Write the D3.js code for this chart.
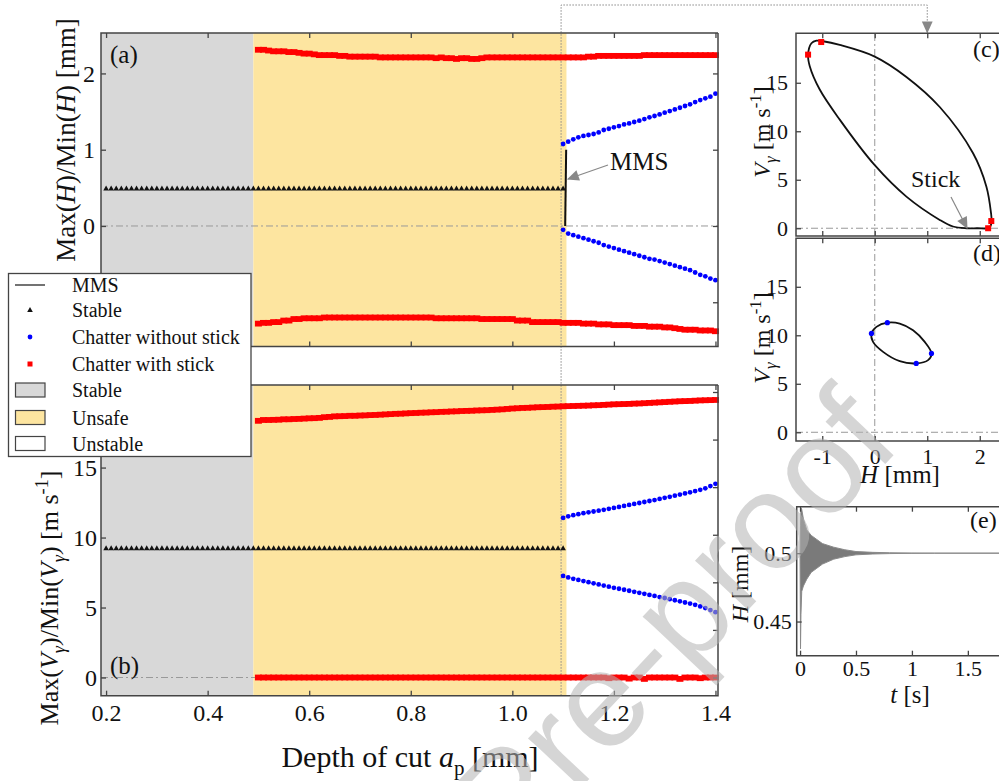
<!DOCTYPE html>
<html><head><meta charset="utf-8">
<script src="https://cdn.jsdelivr.net/npm/d3@7"></script>
<style>
body{margin:0;background:#fff}
svg{display:block}
svg text{font-family:"Liberation Serif","Times New Roman",Times,serif;fill:#111}
</style>
</head><body>
<svg id="chart" width="999" height="781" font-family="Liberation Serif, Times New Roman, serif"></svg>
<script>
// ---------------- DATA ----------------
const apStable = [
0.20,0.21,0.22,0.23,0.24,0.25,0.26,0.27,0.28,0.29,
0.30,0.31,0.32,0.33,0.34,0.35,0.36,0.37,0.38,0.39,
0.40,0.41,0.42,0.43,0.44,0.45,0.46,0.47,0.48,0.49,
0.50,0.51,0.52,0.53,0.54,0.55,0.56,0.57,0.58,0.59,
0.60,0.61,0.62,0.63,0.64,0.65,0.66,0.67,0.68,0.69,
0.70,0.71,0.72,0.73,0.74,0.75,0.76,0.77,0.78,0.79,
0.80,0.81,0.82,0.83,0.84,0.85,0.86,0.87,0.88,0.89,
0.90,0.91,0.92,0.93,0.94,0.95,0.96,0.97,0.98,0.99,
1.00,1.01,1.02,1.03,1.04,1.05,1.06,1.07,1.08,1.09,
1.10];
const hStable = [
0.49,0.49,0.49,0.49,0.49,0.49,0.49,0.49,0.49,0.49,
0.49,0.49,0.49,0.49,0.49,0.49,0.49,0.49,0.49,0.49,
0.49,0.49,0.49,0.49,0.49,0.49,0.49,0.49,0.49,0.49,
0.49,0.49,0.49,0.49,0.49,0.49,0.49,0.49,0.49,0.49,
0.49,0.49,0.49,0.49,0.49,0.49,0.49,0.49,0.49,0.49,
0.49,0.49,0.49,0.49,0.49,0.49,0.49,0.49,0.49,0.49,
0.49,0.49,0.49,0.49,0.49,0.49,0.49,0.49,0.49,0.49,
0.49,0.49,0.49,0.49,0.49,0.49,0.49,0.49,0.49,0.49,
0.49,0.49,0.49,0.49,0.49,0.49,0.49,0.49,0.49,0.49,
0.49];
const vStable = [
9.24,9.24,9.24,9.24,9.24,9.24,9.24,9.24,9.24,9.24,
9.24,9.24,9.24,9.24,9.24,9.24,9.24,9.24,9.24,9.24,
9.24,9.24,9.24,9.24,9.24,9.24,9.24,9.24,9.24,9.24,
9.24,9.24,9.24,9.24,9.24,9.24,9.24,9.24,9.24,9.24,
9.24,9.24,9.24,9.24,9.24,9.24,9.24,9.24,9.24,9.24,
9.24,9.24,9.24,9.24,9.24,9.24,9.24,9.24,9.24,9.24,
9.24,9.24,9.24,9.24,9.24,9.24,9.24,9.24,9.24,9.24,
9.24,9.24,9.24,9.24,9.24,9.24,9.24,9.24,9.24,9.24,
9.24,9.24,9.24,9.24,9.24,9.24,9.24,9.24,9.24,9.24,
9.24];

const apChatter = [
0.50,0.51,0.52,0.53,0.54,0.55,0.56,0.57,0.58,0.59,
0.60,0.61,0.62,0.63,0.64,0.65,0.66,0.67,0.68,0.69,
0.70,0.71,0.72,0.73,0.74,0.75,0.76,0.77,0.78,0.79,
0.80,0.81,0.82,0.83,0.84,0.85,0.86,0.87,0.88,0.89,
0.90,0.91,0.92,0.93,0.94,0.95,0.96,0.97,0.98,0.99,
1.00,1.01,1.02,1.03,1.04,1.05,1.06,1.07,1.08,1.09,
1.10,1.11,1.12,1.13,1.14,1.15,1.16,1.17,1.18,1.19,
1.20,1.21,1.22,1.23,1.24,1.25,1.26,1.27,1.28,1.29,
1.30,1.31,1.32,1.33,1.34,1.35,1.36,1.37,1.38,1.39,
1.40];
const hStickMax = [
2.31,2.31,2.30,2.29,2.29,2.29,2.28,2.28,2.27,2.26,
2.26,2.25,2.24,2.24,2.24,2.24,2.23,2.23,2.22,2.22,
2.22,2.22,2.22,2.22,2.21,2.21,2.21,2.21,2.21,2.21,
2.21,2.21,2.21,2.21,2.21,2.20,2.21,2.20,2.20,2.19,
2.20,2.20,2.19,2.19,2.20,2.21,2.21,2.21,2.21,2.21,
2.21,2.21,2.21,2.21,2.21,2.21,2.21,2.21,2.21,2.21,
2.21,2.21,2.21,2.21,2.21,2.22,2.22,2.23,2.23,2.23,
2.23,2.23,2.23,2.23,2.23,2.23,2.24,2.24,2.24,2.24,
2.24,2.24,2.24,2.24,2.24,2.24,2.24,2.24,2.24,2.24,
2.24];
const hStickMin = [
-1.28,-1.27,-1.27,-1.26,-1.26,-1.24,-1.24,-1.22,-1.22,-1.21,
-1.21,-1.21,-1.21,-1.20,-1.20,-1.20,-1.20,-1.20,-1.20,-1.20,
-1.20,-1.20,-1.20,-1.20,-1.20,-1.20,-1.20,-1.20,-1.20,-1.20,
-1.20,-1.20,-1.20,-1.20,-1.20,-1.21,-1.21,-1.21,-1.21,-1.21,
-1.21,-1.21,-1.21,-1.21,-1.22,-1.22,-1.22,-1.22,-1.22,-1.22,
-1.22,-1.24,-1.24,-1.24,-1.26,-1.26,-1.26,-1.26,-1.26,-1.26,
-1.27,-1.27,-1.27,-1.27,-1.28,-1.28,-1.28,-1.29,-1.29,-1.29,
-1.30,-1.30,-1.30,-1.30,-1.31,-1.31,-1.31,-1.32,-1.32,-1.32,
-1.33,-1.33,-1.34,-1.35,-1.36,-1.36,-1.36,-1.37,-1.37,-1.37,
-1.38];
const vStickMax = [
18.34,18.40,18.40,18.41,18.42,18.45,18.45,18.47,18.48,18.50,
18.52,18.53,18.55,18.60,18.62,18.66,18.67,18.68,18.70,18.70,
18.72,18.73,18.75,18.76,18.78,18.80,18.82,18.84,18.85,18.87,
18.89,18.90,18.92,18.93,18.95,18.96,18.98,18.99,19.01,19.02,
19.04,19.05,19.06,19.08,19.09,19.10,19.12,19.14,19.16,19.19,
19.22,19.24,19.26,19.27,19.29,19.31,19.32,19.33,19.35,19.36,
19.38,19.39,19.40,19.41,19.42,19.43,19.45,19.46,19.48,19.50,
19.52,19.53,19.54,19.55,19.57,19.58,19.60,19.62,19.64,19.66,
19.68,19.70,19.72,19.74,19.75,19.76,19.78,19.80,19.81,19.82,
19.83];
const vStickMin = [
0,0,0,0,0,0,0,0,0,0,
0,0,0,0,0,0,0,0,0,0,
0,0,0,0,0,0,0,0,0,0,
0,0,0,0,0,0,0,0,0,0,
0,0,0,0,0,0,0,0,0,0,
0,0,0,0,0,0,0,0,0,0,
0,0,0,0,0,0,0,0,0,-0.05,
0,0,0,-0.08,0,0,-0.1,0,0,0,
0,0,0,-0.1,0,0,0,-0.05,0,0,
0];

const apNoStick = [
1.10,1.11,1.12,1.13,1.14,1.15,1.16,1.17,1.18,1.19,
1.20,1.21,1.22,1.23,1.24,1.25,1.26,1.27,1.28,1.29,
1.30,1.31,1.32,1.33,1.34,1.35,1.36,1.37,1.38,1.39,
1.40];
const hNoStickMax = [
1.075,1.105,1.136,1.162,1.180,1.193,1.206,1.227,1.258,1.275,
1.293,1.310,1.332,1.345,1.363,1.380,1.402,1.424,1.442,1.463,
1.485,1.507,1.528,1.550,1.573,1.595,1.625,1.651,1.673,1.695,
1.734];
const hNoStickMin = [
-0.05,-0.10,-0.12,-0.14,-0.16,-0.18,-0.20,-0.22,-0.25,-0.27,
-0.29,-0.31,-0.33,-0.35,-0.37,-0.39,-0.41,-0.43,-0.44,-0.46,
-0.48,-0.50,-0.52,-0.54,-0.56,-0.58,-0.61,-0.64,-0.66,-0.69,
-0.71];
const vNoStickMax = [
11.40,11.52,11.60,11.67,11.74,11.80,11.86,11.92,11.98,12.05,
12.12,12.19,12.26,12.33,12.40,12.47,12.54,12.61,12.68,12.76,
12.84,12.91,12.99,13.07,13.15,13.23,13.32,13.41,13.52,13.68,
13.84];
const vNoStickMin = [
7.26,7.15,7.05,6.97,6.89,6.81,6.73,6.65,6.57,6.49,
6.41,6.34,6.27,6.20,6.12,6.05,5.98,5.90,5.83,5.75,
5.68,5.60,5.52,5.44,5.36,5.28,5.19,5.08,4.96,4.82,
4.67];

// MMS segment
const mmsAp = [1.106, 1.104];
const mmsH  = [1.00, 0.00];

// regions
const regionNames = ["Stable","Unsafe","Unstable"];
const regionStart = [0.19, 0.49, 1.107];
const regionEnd   = [0.49, 1.107, 1.405];
const regionColors = ["#d8d8d8","#fde5a0","#ffffff"];

// tick values
const xTicksMain = [0.2,0.4,0.6,0.8,1.0,1.2,1.4];
const yTicksA = [-1,0,1,2];
const yTicksB = [0,5,10,15];
const yTicksBRight = [0,3.4,6.8,10.2,13.6,17.0,20.4];
const xTicksPhase = [-1,0,1,2];
const yTicksPhase = [0,5,10,15];
const xTicksTime = [0,0.5,1,1.5];
const yTicksTime = [0.45,0.5];

// (c) phase orbit with stick
const orbitCH = [-1.11,-0.985,-0.667,0.000,0.603,1.238,1.873,2.127,2.215,2.225,2.200,2.160,1.950,1.750,1.490,1.238,0.603,0.000,-0.667,-1.048,-1.238,-1.270,-1.206];
const orbitCV = [19.34,19.28,18.90,17.70,15.60,12.50,7.73,4.29,1.55,0.74,0.15,0.00,0.00,0.00,0.18,0.86,3.26,6.50,11.20,14.30,16.70,17.90,19.07];
const stickPtsH = [-1.27,-1.02,2.22,2.16];
const stickPtsV = [17.9,19.2,0.74,0.0];

// (d) phase orbit without stick
const orbitDH = [-0.063,0.032,0.240,0.476,0.730,0.952,1.080,1.016,0.790,0.476,0.159,-0.032];
const orbitDV = [10.19,10.87,11.30,11.21,10.52,9.32,8.13,7.44,7.10,7.33,8.29,9.32];
const noStickPtsH = [-0.063,0.240,1.080,0.790];
const noStickPtsV = [10.19,11.30,8.13,7.10];

// (e) time history envelope
const tEnv = [0.000,0.004,0.008,0.015,0.030,0.060,0.100,0.150,0.200,0.300,0.400,0.500,0.650,0.800,1.000,1.200,1.850];
const hEnvUp = [0.500,0.520,0.533,0.532,0.525,0.517,0.513,0.510,0.507,0.5044,0.5025,0.5012,0.5006,0.5003,0.5001,0.500,0.500];
const hEnvLo = [0.500,0.430,0.455,0.472,0.476,0.481,0.486,0.489,0.492,0.4956,0.4975,0.4988,0.4994,0.4997,0.4999,0.500,0.500];

// ---------------- DRAW ----------------
const SERIF = "Liberation Serif, Times New Roman, serif";
const svg = d3.select("#chart");
const AX = "#444", DOT = "#999";

const xM = d3.scaleLinear().domain([0.19,1.405]).range([101,718]);
const yA = d3.scaleLinear().domain([-1.58,2.53]).range([346.5,33]);
const yB = d3.scaleLinear().domain([-1.3,20.9]).range([695.7,385]);
const xC = d3.scaleLinear().domain([-1.5,2.5]).range([796,1006]);
const yC = d3.scaleLinear().domain([-0.8,20.1]).range([236,33.3]);
const yD = d3.scaleLinear().domain([-0.9,20]).range([441,238.3]);
const xE = d3.scaleLinear().domain([-0.03,1.85]).range([796.7,1007]);
const yE = d3.scaleLinear().domain([0.425,0.534]).range([655.7,506.7]);

const defs = svg.append("defs");
defs.append("marker").attr("id","arrBig").attr("viewBox","0 0 10 10").attr("refX",9).attr("refY",5)
  .attr("markerWidth",14).attr("markerHeight",12).attr("markerUnits","userSpaceOnUse").attr("orient","auto")
  .append("path").attr("d","M0,0.5 L10,5 L0,9.5 Z").attr("fill","#888");

// region backgrounds in (a) and (b)
[yA,yB].forEach(ys=>{
  regionNames.forEach((n,i)=>{
    svg.append("rect").attr("x",xM(regionStart[i])).attr("width",xM(regionEnd[i])-xM(regionStart[i]))
      .attr("y",ys.range()[1]).attr("height",ys.range()[0]-ys.range()[1]).attr("fill",regionColors[i]);
  });
});

function dashdotH(xs, ys, y0){
  svg.append("line").attr("x1",xs.range()[0]).attr("x2",Math.min(xs.range()[1],999)).attr("y1",ys(y0)).attr("y2",ys(y0))
    .attr("stroke",DOT).attr("stroke-width",1).attr("stroke-dasharray","7,3,2,3");
}
function dashdotV(xs, ys, x0){
  svg.append("line").attr("x1",xs(x0)).attr("x2",xs(x0)).attr("y1",ys.range()[0]).attr("y2",ys.range()[1])
    .attr("stroke",DOT).attr("stroke-width",1).attr("stroke-dasharray","7,3,2,3");
}
dashdotH(xM,yA,0); dashdotH(xM,yB,0);
dashdotH(xC,yC,0); dashdotV(xC,yC,0);
dashdotH(xC,yD,0); dashdotV(xC,yD,0);

// dotted connector from ap ~1.1 to panel (c)
const connAp = 1.096;
svg.append("path").attr("d",`M${xM(connAp)},${yB.range()[0]} V5 H${xC(1)} V${yC.range()[1]-1}`)
  .attr("fill","none").attr("stroke","#888").attr("stroke-width",1).attr("stroke-dasharray","1.5,1.5")
  .attr("marker-end","url(#arrBig)");

// MMS line
svg.append("path").attr("d",d3.line().x((d,i)=>xM(mmsAp[i])).y((d,i)=>yA(mmsH[i]))(mmsAp))
  .attr("stroke","#111").attr("stroke-width",2).attr("fill","none");

// markers
const tri = "M0,-3 L2.8,2 L-2.8,2 Z";
function triangles(xs,ys,X,Y){
  svg.append("g").selectAll("path").data(X).join("path").attr("d",tri)
    .attr("transform",(d,i)=>`translate(${xs(d)},${ys(Y[i])})`).attr("fill","#111");
}
function squares(xs,ys,X,Y,w=7,h=5.8){
  svg.append("g").selectAll("rect").data(X).join("rect")
    .attr("x",d=>xs(d)-w/2).attr("y",(d,i)=>ys(Y[i])-h/2).attr("width",w).attr("height",h).attr("fill","#ff0000");
}
function dots(xs,ys,X,Y,r=2.4){
  svg.append("g").selectAll("circle").data(X).join("circle")
    .attr("cx",d=>xs(d)).attr("cy",(d,i)=>ys(Y[i])).attr("r",r).attr("fill","#0000ff");
}
triangles(xM,yA,apStable,hStable);
triangles(xM,yB,apStable,vStable);
squares(xM,yA,apChatter,hStickMax); squares(xM,yA,apChatter,hStickMin);
squares(xM,yB,apChatter,vStickMax); squares(xM,yB,apChatter,vStickMin);
dots(xM,yA,apNoStick,hNoStickMax); dots(xM,yA,apNoStick,hNoStickMin);
dots(xM,yB,apNoStick,vNoStickMax); dots(xM,yB,apNoStick,vNoStickMin);

// phase orbits
svg.append("path").attr("d",d3.line().curve(d3.curveCatmullRomClosed.alpha(0.5)).x((d,i)=>xC(orbitCH[i])).y((d,i)=>yC(orbitCV[i]))(orbitCH))
  .attr("fill","none").attr("stroke","#111").attr("stroke-width",1.8);
squares(xC,yC,stickPtsH,stickPtsV,6,6);
svg.append("path").attr("d",d3.line().curve(d3.curveCatmullRomClosed.alpha(0.5)).x((d,i)=>xC(orbitDH[i])).y((d,i)=>yD(orbitDV[i]))(orbitDH))
  .attr("fill","none").attr("stroke","#111").attr("stroke-width",1.8);
dots(xC,yD,noStickPtsH,noStickPtsV,2.6);

// time history
svg.append("path").attr("d",d3.area().x((d,i)=>xE(tEnv[i])).y0((d,i)=>yE(hEnvLo[i])).y1((d,i)=>yE(hEnvUp[i]))(tEnv))
  .attr("fill","#7a7a7a").attr("stroke","#8a8a8a").attr("stroke-width",1);

// frames & axes
function frame(x0,x1,y0,y1){
  svg.append("path").attr("d",`M${Math.min(x1,1010)},${y0} H${x0} V${y1} H${Math.min(x1,1010)}`+(x1<999?` V${y0}`:""))
    .attr("fill","none").attr("stroke",AX).attr("stroke-width",1.5);
}
function axis(gen, tx, ty, labeled, fs, pad){
  const g = svg.append("g").attr("transform",`translate(${tx},${ty})`).call(gen.tickSizeOuter(0).tickPadding(pad));
  g.attr("font-size",null).attr("font-family",SERIF);
  g.select(".domain").remove();
  g.selectAll(".tick line").attr("stroke",AX).attr("stroke-width",1.3);
  g.selectAll(".tick text").attr("fill","#111").attr("font-family",SERIF).style("font-size",fs+"px");
  if(!labeled) g.selectAll(".tick text").remove();
  return g;
}
const fmt = d=>String(d);
const fmtA = d=> d<0 ? "" : String(d);   // the -1 label is hidden behind the legend
const fmt1 = d3.format(".1f");
// (a)
frame(101,718,33,346.5);
axis(d3.axisLeft(yA).tickValues(yTicksA).tickSize(-5).tickFormat(fmtA),101,0,true,24,6);
axis(d3.axisRight(yA).tickValues(yTicksA).tickSize(-5),718,0,false,24,4);
axis(d3.axisTop(xM).tickValues(xTicksMain).tickSize(-5),0,33,false,24,4);
axis(d3.axisBottom(xM).tickValues(xTicksMain).tickSize(-5),0,346.5,false,24,4);
// (b)
frame(101,718,385,695.7);
axis(d3.axisLeft(yB).tickValues(yTicksB).tickSize(-5).tickFormat(fmt),101,0,true,24,4);
axis(d3.axisRight(yB).tickValues(yTicksBRight).tickSize(-5),718,0,false,24,4);
axis(d3.axisTop(xM).tickValues(xTicksMain).tickSize(-5),0,385,false,24,4);
axis(d3.axisBottom(xM).tickValues(xTicksMain).tickSize(-5).tickFormat(fmt1),0,695.7,true,24,8);
// (c)
frame(796,1006,33.3,236);
axis(d3.axisLeft(yC).tickValues(yTicksPhase).tickSize(-5).tickFormat(fmt),796,0,true,22,8);
axis(d3.axisTop(xC).tickValues(xTicksPhase).tickSize(-5),0,33.3,false,22,4);
axis(d3.axisBottom(xC).tickValues(xTicksPhase).tickSize(-5),0,236,false,22,4);
// (d)
frame(796,1006,238.3,441);
axis(d3.axisLeft(yD).tickValues(yTicksPhase).tickSize(-5).tickFormat(fmt),796,0,true,22,8);
axis(d3.axisTop(xC).tickValues(xTicksPhase).tickSize(-5),0,238.3,false,22,4);
axis(d3.axisBottom(xC).tickValues(xTicksPhase).tickSize(-5).tickFormat(fmt),0,441,true,22,7);
// (e)
frame(796.7,1007,506.7,655.7);
axis(d3.axisLeft(yE).tickValues(yTicksTime).tickSize(-5).tickFormat(fmt),796.7,0,true,22,5);
axis(d3.axisTop(xE).tickValues(xTicksTime).tickSize(-5),0,506.7,false,22,4);
axis(d3.axisBottom(xE).tickValues(xTicksTime).tickSize(-5).tickFormat(fmt),0,655.7,true,22,5);

// rich text helper
function rich(sel, parts, fs){
  let shift=0;
  parts.forEach(p=>{
    const st=p[1]||"";
    let target=0;
    if(st.includes("sub")) target=fs*0.25;
    if(st.includes("sup")) target=-fs*0.38;
    const ts=sel.append("tspan").text(p[0]).attr("dy",(target-shift).toFixed(2));
    shift=target;
    if(target!==0) ts.attr("font-size",(fs*0.7).toFixed(1));
    if(st.startsWith("i")) ts.attr("font-style","italic");
  });
  return sel;
}
function label(x,y,rot,fs,parts,anchor="middle"){
  const t=svg.append("text").attr("font-size",fs).attr("text-anchor",anchor).attr("font-family",SERIF)
    .attr("transform",`translate(${x},${y}) rotate(${rot})`);
  rich(t,parts,fs);
  return t;
}
label(75,140,-90,27,[["Max("],["H","i"],[")/Min("],["H","i"],[") [mm]"]]);
label(58,598,-90,26,[["Max("],["V","i"],["γ","isub"],[")/Min("],["V","i"],["γ","isub"],[") [m s"],["-1","sup"],["]"]]);
label(410,767,0,30,[["Depth of cut "],["a","i"],["p","sub"],[" [mm]"]]);
label(770,132,-90,24,[["V","i"],["γ","isub"],[" [m s"],["-1","sup"],["]"]]);
label(770,338,-90,24,[["V","i"],["γ","isub"],[" [m s"],["-1","sup"],["]"]]);
label(900,483,0,25,[["H","i"],[" [mm]"]]);
label(748,584,-90,24,[["H","i"],[" [mm]"]]);
label(910,703,0,25,[["t","i"],[" [s]"]]);
label(110,63,0,25,[["(a)"]],"start");
label(110,674,0,25,[["(b)"]],"start");
label(973,57,0,24,[["(c)"]],"start");
label(973,261,0,24,[["(d)"]],"start");
label(970,528,0,24,[["(e)"]],"start");
label(610,170,0,25,[["MMS"]],"start");
label(911,187,0,24,[["Stick"]],"start");

// annotation arrows
svg.append("line").attr("x1",608).attr("y1",165).attr("x2",568).attr("y2",179)
  .attr("stroke","#888").attr("stroke-width",1.2).attr("marker-end","url(#arrBig)");
svg.append("line").attr("x1",951).attr("y1",197).attr("x2",967).attr("y2",228)
  .attr("stroke","#888").attr("stroke-width",1.2).attr("marker-end","url(#arrBig)");

// legend
const lg = svg.append("g");
lg.append("rect").attr("x",8.5).attr("y",273.5).attr("width",242.5).attr("height",183).attr("fill","#fff").attr("stroke",AX).attr("stroke-width",1.3);
const legendItems = ["MMS","Stable","Chatter without stick","Chatter with stick","Stable","Unsafe","Unstable"];
const legendY = [285,310,337,364,390,417.5,443.5];
legendItems.forEach((t,i)=>{
  const cy=legendY[i];
  if(i===0) lg.append("line").attr("x1",15).attr("x2",45).attr("y1",cy).attr("y2",cy).attr("stroke",AX).attr("stroke-width",1.5);
  if(i===1) lg.append("path").attr("d",tri).attr("transform",`translate(30,${cy})`).attr("fill","#111");
  if(i===2) lg.append("circle").attr("cx",30).attr("cy",cy).attr("r",2.4).attr("fill","#0000ff");
  if(i===3) lg.append("rect").attr("x",27.5).attr("y",cy-2.5).attr("width",5).attr("height",5).attr("fill","#ff0000");
  if(i>=4) lg.append("rect").attr("x",15.5).attr("y",cy-7).attr("width",29.5).attr("height",14)
     .attr("fill",regionColors[i-4]).attr("stroke",AX).attr("stroke-width",1.2);
  lg.append("text").attr("x",72).attr("y",cy+7).attr("font-size",20).attr("font-family",SERIF).text(t);
});

// watermark
svg.append("text").attr("transform","translate(903,445) rotate(-46.8)").attr("text-anchor","end")
  .attr("font-size",137).attr("font-family","Liberation Sans, Arial, sans-serif").style("font-family","'Liberation Sans',Arial,sans-serif").style("fill","#b4b4b4")
  .attr("opacity",0.55).text("Journal Pre-proof");
</script>
</body></html>
